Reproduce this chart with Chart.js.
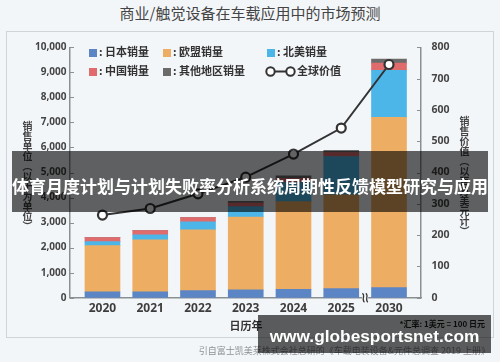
<!DOCTYPE html>
<html>
<head>
<meta charset="utf-8">
<script src="https://cdn.jsdelivr.net/npm/chart.js@4.4.1/dist/chart.umd.min.js"></script>
<style>
html, body { margin: 0; padding: 0; }
body {
  width: 500px; height: 362px; position: relative; overflow: hidden;
  background: #f3f6f9; color: #333;
  font-family: "Noto Sans CJK SC", "Noto Sans", sans-serif;
}
.abs { position: absolute; white-space: nowrap; }
#title { left: 0; top: 4px; width: 500px; text-align: center; font-size: 15px; line-height: 18px; color: #444; }
#card { left: 6px; top: 31px; width: 488px; height: 307px; border: 1px solid #cfd4d9; box-sizing: border-box; }
#chart { position: absolute; left: 0; top: 0; }
.leg { position: absolute; font-size: 11px; font-weight: bold; line-height: 14px; color: #333; white-space: nowrap; }
.leg i { display: inline-block; width: 8px; height: 8px; margin-right: 2px; vertical-align: -0.5px; }
.vt { position: absolute; writing-mode: vertical-rl; font-size: 10px; line-height: 11px; font-weight: bold; color: #444; white-space: nowrap; }
#xt { left: 196px; top: 318px; width: 100px; text-align: center; font-size: 11px; line-height: 14px; font-weight: bold; color: #333; }
#note { left: 385px; top: 319px; width: 100px; text-align: right; font-size: 8px; line-height: 10px; font-weight: bold; color: #222; }
#src { left: 150px; top: 345px; width: 340px; text-align: right; font-size: 9px; line-height: 12px; color: #8c8f93; }
#banner { left: 12px; top: 151px; width: 476px; height: 61px; background: rgba(0,0,0,0.61); }
#banner span { position: absolute; left: 0; top: 4px; width: 476px; text-align: center; line-height: 61px; font-size: 17px; font-weight: bold; color: #fff; }
#wm { left: 258px; top: 315px; width: 233px; height: 38px; background: rgba(0,0,0,0.63); }
#wm span { position: absolute; left: 0; top: 2px; width: 233px; text-align: center; line-height: 38px; font-size: 17.3px; font-weight: bold; color: #fff; font-family: "Liberation Sans", Arial, sans-serif; }
</style>
</head>
<body>
<div id="title" class="abs">商业/触觉设备在车载应用中的市场预测</div>
<div id="card" class="abs"></div>
<canvas id="chart" width="500" height="362"></canvas>
<div id="legend"></div>
<div class="vt" style="left:22px;top:121px;">销售单位（以千为单位）</div>
<div class="vt" style="left:459px;top:116px;">销售价值（以百万美元计）</div>
<div id="xt" class="abs">日历年</div>
<div id="note" class="abs">*汇率: 1美元 = 100 日元</div>
<div id="src" class="abs">引自富士凯美莱株式会社总研的《车载电装设备&amp;元件总调查 2019 上册》</div>
<div id="banner" class="abs"><span>体育月度计划与计划失败率分析系统周期性反馈模型研究与应用</span></div>
<div id="wm" class="abs"><span>www.globesportsnet.com</span></div>
<script>
const years = ['2020', '2021', '2022', '2023', '2024', '2025', '2030'];
const japan = [230, 230, 280, 310, 335, 360, 400];
const eu = [1850, 2080, 2430, 2910, 3500, 3750, 6800];
const northAmerica = [160, 200, 320, 420, 760, 1530, 1880];
const china = [160, 170, 170, 140, 170, 160, 290];
const otherRegions = [0, 0, 0, 70, 100, 90, 160];
const globalValue = [264, 285, 332, 385, 459, 542, 745];
const unitTicks = [0, 1000, 2000, 3000, 4000, 5000, 6000, 7000, 8000, 9000, 10000];
const valueTicks = [0, 100, 200, 300, 400, 500, 600, 700, 800];

const seriesNames = ['日本销量', '欧盟销量', '北美销量', '中国销量', '其他地区销量'];
const lineName = '全球价值';
const barColors = ['#5b85c5', '#edae63', '#4cb6e8', '#e06b6d', '#6b6b6b'];
const barSeries = [japan, eu, northAmerica, china, otherRegions];

const toXY = arr => arr.map((v, i) => ({ x: i, y: v }));

// legend, laid out as in the picture (3 columns, 2 rows)
const legendCols = [89, 163, 267];
const legendRows = [44, 63];
const legendBox = document.getElementById('legend');
seriesNames.forEach((name, i) => {
  const d = document.createElement('div');
  d.className = 'leg';
  d.style.left = legendCols[i % 3] + 'px';
  d.style.top = legendRows[Math.floor(i / 3)] + 'px';
  d.innerHTML = '<i style="background:' + barColors[i] + '"></i>: ' + name;
  legendBox.appendChild(d);
});
const lineLeg = document.createElement('div');
lineLeg.className = 'leg';
lineLeg.style.left = '265px';
lineLeg.style.top = legendRows[1] + 'px';
lineLeg.innerHTML = '<svg width="31" height="11" style="vertical-align:-1.5px;margin-right:1px">' +
  '<line x1="5" y1="5.5" x2="26" y2="5.5" stroke="#333" stroke-width="2"/>' +
  '<circle cx="5.5" cy="5.5" r="4.2" fill="#fff" stroke="#333" stroke-width="2"/>' +
  '<circle cx="25.5" cy="5.5" r="4.2" fill="#fff" stroke="#333" stroke-width="2"/></svg>' + lineName;
legendBox.appendChild(lineLeg);

// inward tick marks and the axis break between 2025 and 2030
const decor = {
  id: 'decor',
  afterDraw(chart) {
    const { ctx, chartArea: a, scales } = chart;
    ctx.save();
    ctx.strokeStyle = '#8a8f94';
    ctx.lineWidth = 1;
    scales.y.ticks.forEach(t => {
      const py = Math.round(scales.y.getPixelForValue(t.value)) + 0.5;
      ctx.beginPath(); ctx.moveTo(a.left, py); ctx.lineTo(a.left + 4, py); ctx.stroke();
    });
    scales.y1.ticks.forEach(t => {
      const py = Math.round(scales.y1.getPixelForValue(t.value)) + 0.5;
      ctx.beginPath(); ctx.moveTo(a.right - 4, py); ctx.lineTo(a.right, py); ctx.stroke();
    });
    const bx = scales.x.getPixelForValue(5.5);
    const by = a.bottom;
    ctx.fillStyle = '#f3f6f9';
    ctx.fillRect(bx - 3, by - 2, 6, 4);
    ctx.strokeStyle = '#333';
    ctx.lineWidth = 1.2;
    [-1.7, 1.7].forEach(dx => {
      ctx.beginPath();
      ctx.moveTo(bx + dx - 1, by - 4.5);
      ctx.bezierCurveTo(bx + dx + 2.5, by - 2, bx + dx - 2.5, by + 2, bx + dx + 1, by + 4.5);
      ctx.stroke();
    });
    ctx.restore();
  }
};

const datasets = [{
  type: 'line',
  label: lineName,
  data: toXY(globalValue),
  yAxisID: 'y1',
  order: 0,
  borderColor: '#333',
  borderWidth: 2,
  pointRadius: 4.5,
  pointBorderWidth: 2.2,
  pointBackgroundColor: '#fff',
  pointBorderColor: '#333',
  tension: 0
}];
barSeries.forEach((arr, i) => {
  datasets.push({
    type: 'bar',
    label: seriesNames[i],
    data: toXY(arr),
    yAxisID: 'y',
    order: 1,
    backgroundColor: barColors[i],
    borderWidth: 0,
    barThickness: 35
  });
});

new Chart(document.getElementById('chart'), {
  data: { datasets: datasets },
  plugins: [decor],
  options: {
    responsive: false,
    animation: false,
    events: [],
    layout: { padding: { top: 47.3, bottom: 34.3, left: 0, right: 0 } },
    plugins: { legend: { display: false }, tooltip: { enabled: false } },
    scales: {
      x: {
        type: 'linear',
        stacked: true,
        offset: false,
        bounds: 'data',
        min: -0.68,
        max: 6.67,
        afterBuildTicks: axis => { axis.ticks = years.map((_, i) => ({ value: i })); },
        afterFit: axis => { axis.height = 30; },
        grid: { display: false, drawTicks: false, offset: false },
        border: { display: true, color: '#8a8f94', width: 1.5 },
        ticks: {
          padding: 4,
          color: '#3d3d3d',
          font: { family: "'Noto Sans', sans-serif", size: 12, weight: 'bold' },
          callback: v => years[v]
        }
      },
      y: {
        position: 'left',
        stacked: true,
        min: 0,
        max: 10000,
        afterBuildTicks: axis => { axis.ticks = unitTicks.map(v => ({ value: v })); },
        afterFit: axis => { axis.width = 70; },
        grid: { display: false, drawTicks: false },
        border: { display: true, color: '#8a8f94', width: 1.5 },
        ticks: {
          padding: 3.5,
          color: '#444',
          font: { family: "'Noto Sans', sans-serif", size: 10, weight: 'bold' },
          callback: v => v.toLocaleString('en-US')
        }
      },
      y1: {
        position: 'right',
        min: 0,
        max: 800,
        afterBuildTicks: axis => { axis.ticks = valueTicks.map(v => ({ value: v })); },
        afterFit: axis => { axis.width = 79; },
        grid: { display: false, drawTicks: false },
        border: { display: true, color: '#8a8f94', width: 1.5 },
        ticks: {
          padding: 10.5,
          color: '#444',
          font: { family: "'Noto Sans', sans-serif", size: 10.5, weight: 'bold' }
        }
      }
    }
  }
});
</script>
</body>
</html>
